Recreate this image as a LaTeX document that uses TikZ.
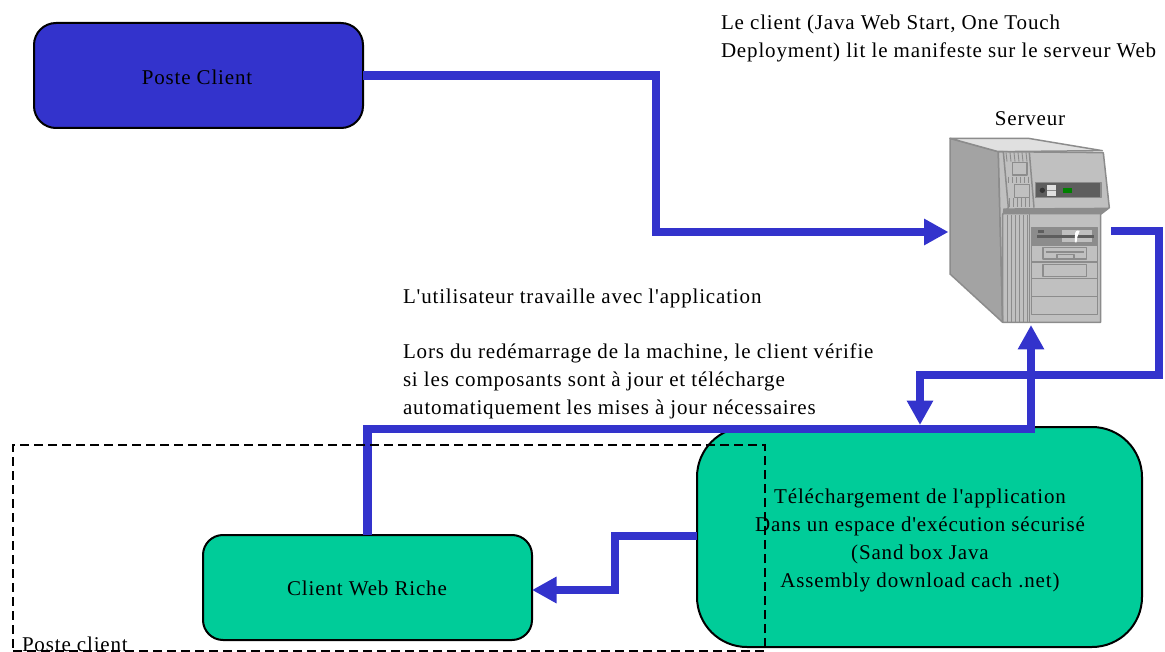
\documentclass[tikz,border=0pt]{standalone}
\usepackage{fontspec}
\setmainfont[LetterSpace=4,Ligatures=TeXOff]{Liberation Serif}
\usetikzlibrary{arrows.meta}
\definecolor{bluefill}{HTML}{3333CC}
\definecolor{greenfill}{HTML}{00CC99}
\definecolor{srvline}{HTML}{8C8C8C}
\definecolor{srvside}{HTML}{A3A3A3}
\definecolor{srvfront}{HTML}{C0C0C0}
\definecolor{srvtop}{HTML}{E0E0E0}
\definecolor{srvdark}{HTML}{5E5E5E}
\tikzset{
  x=1pt,y=-1pt,
  every node/.style={font=\fontsize{21}{28}\selectfont,inner sep=0pt,outer sep=0pt},
  rbox/.style={draw=black,line width=2pt,rounded corners=#1,anchor=north west},
  link/.style={draw=bluefill,line width=8.5pt,line join=miter},
  linkarrow/.style={link,-{Triangle[length=24.5pt,width=25pt]}},
  txt/.style={anchor=base west,align=left},
  sv/.style={draw=srvline,line width=1.5pt,line join=round},
}
\begin{document}
\begin{tikzpicture}
\useasboundingbox (0,0) rectangle (1165,652);
% boxes
\node[rbox=22pt,fill=bluefill,minimum width=329pt,minimum height=105pt] (pc) at (34,23) {};
\node (pctext) at (197,77) {Poste Client};
\node[rbox=50pt,fill=greenfill,minimum width=445pt,minimum height=220pt] (dl) at (697,427) {};
\node[rbox=20pt,fill=greenfill,minimum width=329pt,minimum height=105pt] (rich) at (203,535) {};
\node (richtext) at (367,588) {Client Web Riche};
% server
\node[minimum width=160pt,minimum height=186pt,anchor=north west] (srv) at (950,137) {};
\begin{scope}[shift={(930,120)},x=0.3333pt,y=-0.3333pt]
\path[sv,fill=srvside] (60,55) -- (205,95) -- (218,607) -- (60,462) -- cycle;
\path[sv,fill=srvtop] (60,55) -- (295,55) -- (517,92) -- (205,95) -- cycle;
\path[sv,fill=srvfront] (205,95) -- (520,98) -- (538,263) -- (512,283) -- (512,607) -- (218,607) -- cycle;
\draw[sv] (205,95) -- (220,95) -- (235,263) -- (218,283) -- (218,607);
\fill[srvline] (220,265) -- (538,263) -- (512,283) -- (218,283) -- cycle;
\foreach \xx in {228,240,252,264,276,288}{
  \draw[srvline,line width=.9pt] (\xx,97) -- (\xx+3,125);
  \draw[srvline,line width=.9pt] (\xx+8,170) -- (\xx+8,190);
  \draw[srvline,line width=.9pt] (\xx+10,235) -- (\xx+10,262);
  \draw[srvline,line width=.9pt] (\xx+4,285) -- (\xx+4,607);}
\draw[sv] (298,97) -- (312,263);
\draw[sv] (298,283) -- (298,607);
\draw[sv,fill=srvfront] (247,127) rectangle (291,165);
\draw[sv,fill=srvfront] (254,193) rectangle (298,232);
\draw[sv,fill=srvdark] (316,187) rectangle (513,233);
\fill[black!80] (337,211) circle (8);
\fill[srvtop] (351,195) rectangle (378,228);
\draw[srvline,line width=.7pt] (351,211) -- (378,211);
\fill[green!50!black] (399,204) rectangle (426,219);
\draw[sv,fill=srvfront] (305,322) rectangle (502,584);
\fill[srvline] (305,322) rectangle (502,379);
\fill[srvfront] (397,330) rectangle (487,365);
\fill[srvdark] (324,330) rectangle (342,339);
\fill[srvdark] (321,345) rectangle (492,354);
\fill[white] (435,350) .. controls (433,335) and (440,328) .. (449,333) .. controls (445,345) and (440,350) .. (440,367) -- (435,367) -- cycle;
\draw[sv] (305,426) -- (502,426);
\draw[sv] (305,476) -- (502,476);
\draw[sv] (305,529) -- (502,529);
\draw[sv] (339,383) rectangle (470,417);
\draw[srvline,line width=1.5pt] (347,396) -- (463,396);
\draw[sv] (381,414) -- (381,404) -- (432,404) -- (432,414);
\draw[sv] (339,434) rectangle (470,469);
\end{scope}
% connectors
\coordinate (srvin) at (948.5,232);
\coordinate (srvout) at (1111,231);
\coordinate (srvbot) at (1031,325);
\coordinate (dltop) at (920,425);
\path[linkarrow] (pc.east) -- (656,75.5) -- (656,232) -- (srvin);
\path[linkarrow] (srvout) -- (1159,231) -- (1159,375) -- (920,375) -- (dltop);
\path[linkarrow] (367.5,535) -- (367.5,429) -- (1031,429) -- (srvbot);
\path[linkarrow] (dl.west |- 0,536) -- (615,536) -- (615,590) -- (rich.east |- 0,590);
% dashed frame
\node[draw=black,line width=2.7pt,dash pattern=on 9pt off 5pt,anchor=north west,minimum width=752pt,minimum height=206pt] (frame) at (13,445) {};
% texts
\node[txt] (t1) at (721,58) {Le client (Java Web Start, One Touch\\Deployment) lit le manifeste sur le serveur Web};
\node (t2) at (1030,126) [anchor=base] {Serveur};
\node[txt] (t3) at (403,304) {L'utilisateur travaille avec l'application};
\node[txt] (t4) at (403,414) {Lors du redémarrage de la machine, le client vérifie\\si les composants sont à jour et télécharge\\automatiquement les mises à jour nécessaires};
\node[anchor=base,align=center] (t5) at (920,587) {Téléchargement de l'application\\Dans un espace d'exécution sécurisé\\(Sand box Java\\Assembly download cach .net)};
\node[txt] (t6) at (22,651) {Poste client};
\end{tikzpicture}
\end{document}
